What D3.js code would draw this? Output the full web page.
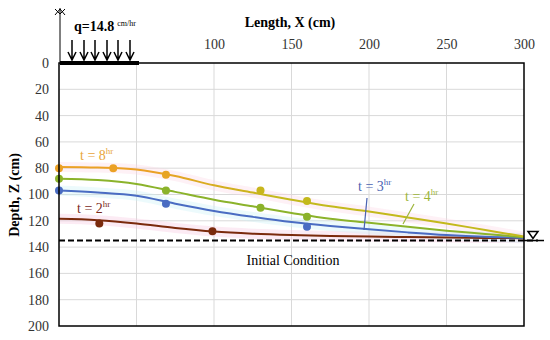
<!DOCTYPE html>
<html>
<head>
<meta charset="utf-8">
<script src="https://cdn.jsdelivr.net/npm/d3@7"></script>
<style>
  body { margin: 0; background: #fff; }
  svg text { font-family: "Liberation Serif", serif; }
</style>
</head>
<body>
<svg id="chart" width="550" height="340"></svg>
<script>
// distances along the profile (cm)
const xCurve = [0, 25, 50, 75, 100, 125, 150, 175, 200, 225, 250, 275, 300];

// simulated depth of wetting front (cm)
const t8 = [79, 79.5, 81, 86, 93, 98.5, 104, 109, 113, 117.5, 122, 127, 132];
const t4 = [88, 89, 92, 98, 104, 109, 114, 118.5, 121.5, 124.5, 127.5, 130, 132.5];
const t3 = [97, 98.5, 101, 107, 112.5, 117, 121, 124, 126.5, 128.8, 130.8, 132.2, 133];
const t2 = [118.5, 119.5, 122, 125.5, 128.2, 129.8, 130.8, 131.5, 132, 132.4, 132.7, 133, 133.2];

// measured points [x, z]
const obs8 = [[0, 80], [35, 80], [69, 85], [130, 97], [160, 105]];
const obs4 = [[0, 88], [69, 97], [130, 110], [160, 117]];
const obs3 = [[0, 97], [69, 107], [160, 124.5]];
const obs2 = [[26, 122], [99, 128]];

const initialDepth = 135;
const xTicks = [100, 150, 200, 250, 300];
const yTicks = [0, 20, 40, 60, 80, 100, 120, 140, 160, 180, 200];

const svg = d3.select("#chart");
const mLeft = 59, mRight = 524, mTop = 63, mBottom = 326;

const x = d3.scaleLinear().domain([0, 300]).range([mLeft, mRight]);
const y = d3.scaleLinear().domain([0, 200]).range([mTop, mBottom]);

// grid
svg.append("g").selectAll("line").data([50, 100, 150, 200, 250]).enter().append("line")
  .attr("x1", d => x(d)).attr("x2", d => x(d)).attr("y1", mTop).attr("y2", mBottom)
  .attr("stroke", "#d9d9d9").attr("stroke-width", 1);
svg.append("g").selectAll("line").data(yTicks.slice(1, -1)).enter().append("line")
  .attr("x1", mLeft).attr("x2", mRight).attr("y1", d => y(d)).attr("y2", d => y(d))
  .attr("stroke", "#d9d9d9").attr("stroke-width", 1);

// axes labels
const yAxis = d3.axisLeft(y).tickValues(yTicks).tickSize(0).tickPadding(10);
svg.append("g").attr("transform", `translate(${mLeft},0)`).call(yAxis)
  .attr("font-family", null).attr("font-size", 14)
  .call(g => g.select(".domain").remove())
  .selectAll("text").attr("fill", "#333");

const xAxis = d3.axisTop(x).tickValues(xTicks).tickSize(0).tickPadding(14);
svg.append("g").attr("transform", `translate(0,${mTop})`).call(xAxis)
  .attr("font-family", null).attr("font-size", 14)
  .call(g => g.select(".domain").remove())
  .selectAll("text").attr("fill", "#333");

svg.append("text").attr("x", 290).attr("y", 27).attr("text-anchor", "middle")
  .attr("font-weight", "bold").attr("font-size", 14).text("Length, X (cm)");
svg.append("text").attr("transform", "translate(19,195) rotate(-90)").attr("text-anchor", "middle")
  .attr("font-weight", "bold").attr("font-size", 14).text("Depth, Z (cm)");

// gradient for t=8 line (orange to olive)
const defs = svg.append("defs");
const grad = defs.append("linearGradient").attr("id", "g8")
  .attr("gradientUnits", "userSpaceOnUse")
  .attr("x1", x(60)).attr("x2", x(140)).attr("y1", 0).attr("y2", 0);
grad.append("stop").attr("offset", 0).attr("stop-color", "#eba125");
grad.append("stop").attr("offset", 1).attr("stop-color", "#c3b91c");
const col8 = d3.scaleLinear().domain([60, 140]).range(["#eba125", "#c3b91c"]).clamp(true);

const line = d3.line().x((d, i) => x(xCurve[i])).y(d => y(d)).curve(d3.curveCatmullRom.alpha(0.5));

// faint halos
[[t2, "#f7c6e0"], [t3, "#c9f1f7"], [t8, "#fbd6e6"]].forEach(([s, c]) => {
  svg.append("path").datum(s).attr("d", line).attr("fill", "none")
    .attr("stroke", c).attr("stroke-width", 10).attr("opacity", 0.35);
});

// initial condition
svg.append("line").attr("x1", x(0)).attr("x2", x(300) + 14).attr("y1", y(initialDepth)).attr("y2", y(initialDepth))
  .attr("stroke", "#000").attr("stroke-width", 2).attr("stroke-dasharray", "6,3");
svg.append("line").attr("x1", x(300)).attr("x2", x(300) + 20).attr("y1", y(initialDepth)).attr("y2", y(initialDepth))
  .attr("stroke", "#000").attr("stroke-width", 1.5);

const series = [
  { vals: t2, obs: obs2, color: "#7a2a0c" },
  { vals: t3, obs: obs3, color: "#4a6cc2" },
  { vals: t4, obs: obs4, color: "#8bb32b" },
  { vals: t8, obs: obs8, color: "url(#g8)" }
];

series.forEach(s => {
  svg.append("path").datum(s.vals).attr("d", line).attr("fill", "none")
    .attr("stroke", s.color).attr("stroke-width", 2);
});
series.forEach(s => {
  svg.append("g").selectAll("circle").data(s.obs).enter().append("circle")
    .attr("cx", d => x(d[0])).attr("cy", d => y(d[1])).attr("r", 4)
    .attr("fill", d => s.color === "url(#g8)" ? col8(d[0]) : s.color);
});

// frame
svg.append("rect").attr("x", mLeft).attr("y", mTop).attr("width", mRight - mLeft).attr("height", mBottom - mTop)
  .attr("fill", "none").attr("stroke", "#000").attr("stroke-width", 1.5);

// water table symbol
const wx = x(300) + 9, wy = y(initialDepth) - 2;
svg.append("path").attr("d", `M${wx - 5},${wy - 7} L${wx + 5},${wy - 7} L${wx},${wy} Z`)
  .attr("fill", "#fff").attr("stroke", "#000").attr("stroke-width", 1.5);

// curve labels
function label(tx, ty, num, color) {
  const t = svg.append("text").attr("x", tx).attr("y", ty).attr("fill", color).attr("font-size", 14);
  t.append("tspan").text("t = " + num);
  t.append("tspan").attr("dy", -6).attr("font-size", 9).text("hr");
}
label(80, 160, 8, "#e8a43a");
label(77, 213, 2, "#7a2a1a");
label(358, 191, 3, "#4a63b2");
label(405, 201, 4, "#9db53a");

svg.append("line").attr("x1", 367).attr("y1", 198).attr("x2", 364).attr("y2", y(127))
  .attr("stroke", "#4a63b2").attr("stroke-width", 1.2);
svg.append("line").attr("x1", 414).attr("y1", 204).attr("x2", 403).attr("y2", 224)
  .attr("stroke", "#9db53a").attr("stroke-width", 1.2);

svg.append("text").attr("x", 293).attr("y", 265).attr("text-anchor", "middle")
  .attr("font-size", 14).text("Initial Condition");

// surface load: bar, arrows and vertical axis
svg.append("line").attr("x1", 60).attr("x2", 139).attr("y1", mTop).attr("y2", mTop)
  .attr("stroke", "#000").attr("stroke-width", 4);
svg.append("line").attr("x1", 60).attr("x2", 60).attr("y1", 8).attr("y2", mTop)
  .attr("stroke", "#000").attr("stroke-width", 1);
svg.append("path").attr("d", "M55,15 L60,9 L65,15 M55,9 L60,14 L65,9")
  .attr("fill", "none").attr("stroke", "#000").attr("stroke-width", 1);

const arrowX = [72, 84, 95, 107, 118, 130];
svg.append("g").selectAll("path").data(arrowX).enter().append("path")
  .attr("d", d => `M${d},40 L${d},60 M${d - 4},52 L${d},60 L${d + 4},52`)
  .attr("fill", "none").attr("stroke", "#000").attr("stroke-width", 1.5);

const q = svg.append("text").attr("x", 74).attr("y", 31).attr("font-size", 14).attr("font-weight", "bold");
q.append("tspan").text("q=14.8");
q.append("tspan").attr("dx", 3).attr("dy", -5).attr("font-size", 8).attr("font-weight", "normal").text("cm/hr");
</script>
</body>
</html>
